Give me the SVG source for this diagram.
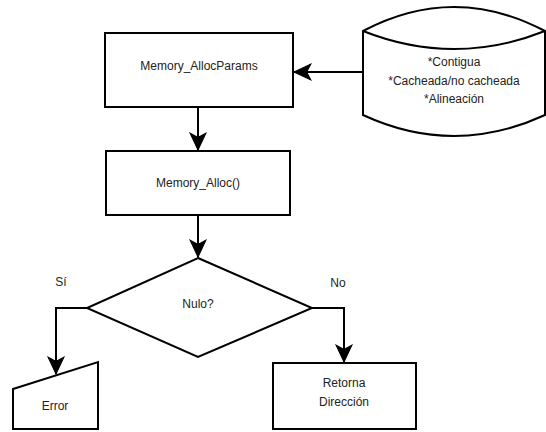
<svg xmlns="http://www.w3.org/2000/svg" width="546" height="432" viewBox="0 0 546 432">
  <style>
    .shape { fill: #ffffff; stroke: #000000; stroke-width: 2; }
    .edge { fill: none; stroke: #000000; stroke-width: 2; marker-end: url(#arrow); }
    .label { font-family: "Liberation Sans", Arial, sans-serif; font-size: 12px; fill: #222222; text-anchor: middle; }
  </style>
  <defs>
    <marker id="arrow" markerUnits="userSpaceOnUse" markerWidth="20" markerHeight="20" viewBox="-17 -9 19 18" refX="0" refY="0" orient="auto">
      <path d="M0,0 L-16,-7.5 L-12,0 L-16,7.5 Z" fill="#000000" stroke="#000000" stroke-width="1"/>
    </marker>
  </defs>

  <rect width="546" height="432" fill="#ffffff"/>

  <g id="connectors">
    <path class="edge" d="M198,107 L198,150"/>
    <path class="edge" d="M198,215 L198,257"/>
    <path class="edge" d="M363,72 L294,72"/>
    <path class="edge" d="M87,308 L56,308 L56,374"/>
    <path class="edge" d="M312,308 L344,308 L344,362"/>
  </g>

  <g id="alloc-params">
    <rect class="shape" x="105" y="33" width="188" height="74"/>
    <text class="label" x="199" y="70">Memory_AllocParams</text>
  </g>

  <g id="params-store">
    <path class="shape" d="M363,31 Q454,-17 545,31 L545,115 Q454,157 363,115 Z"/>
    <path class="shape" fill="none" d="M363,31 Q454,67 545,31"/>
    <text class="label" x="454" y="66">*Contigua</text>
    <text class="label" x="454" y="85">*Cacheada/no cacheada</text>
    <text class="label" x="454" y="103">*Alineación</text>
  </g>

  <g id="alloc-call">
    <rect class="shape" x="106" y="151" width="184" height="64"/>
    <text class="label" x="198" y="187">Memory_Alloc()</text>
  </g>

  <g id="null-check">
    <polygon class="shape" points="198,258 312,308 198,357 87,308"/>
    <text class="label" x="198" y="308">Nulo?</text>
  </g>

  <g id="error">
    <polygon class="shape" points="13,389 98,362 98,429 13,429"/>
    <text class="label" x="55" y="410">Error</text>
  </g>

  <g id="return-address">
    <rect class="shape" x="273" y="363" width="143" height="66"/>
    <text class="label" x="344" y="387">Retorna</text>
    <text class="label" x="344" y="406">Dirección</text>
  </g>

  <g id="edge-labels">
    <text class="label" x="61" y="286">Sí</text>
    <text class="label" x="338" y="287">No</text>
  </g>
</svg>
